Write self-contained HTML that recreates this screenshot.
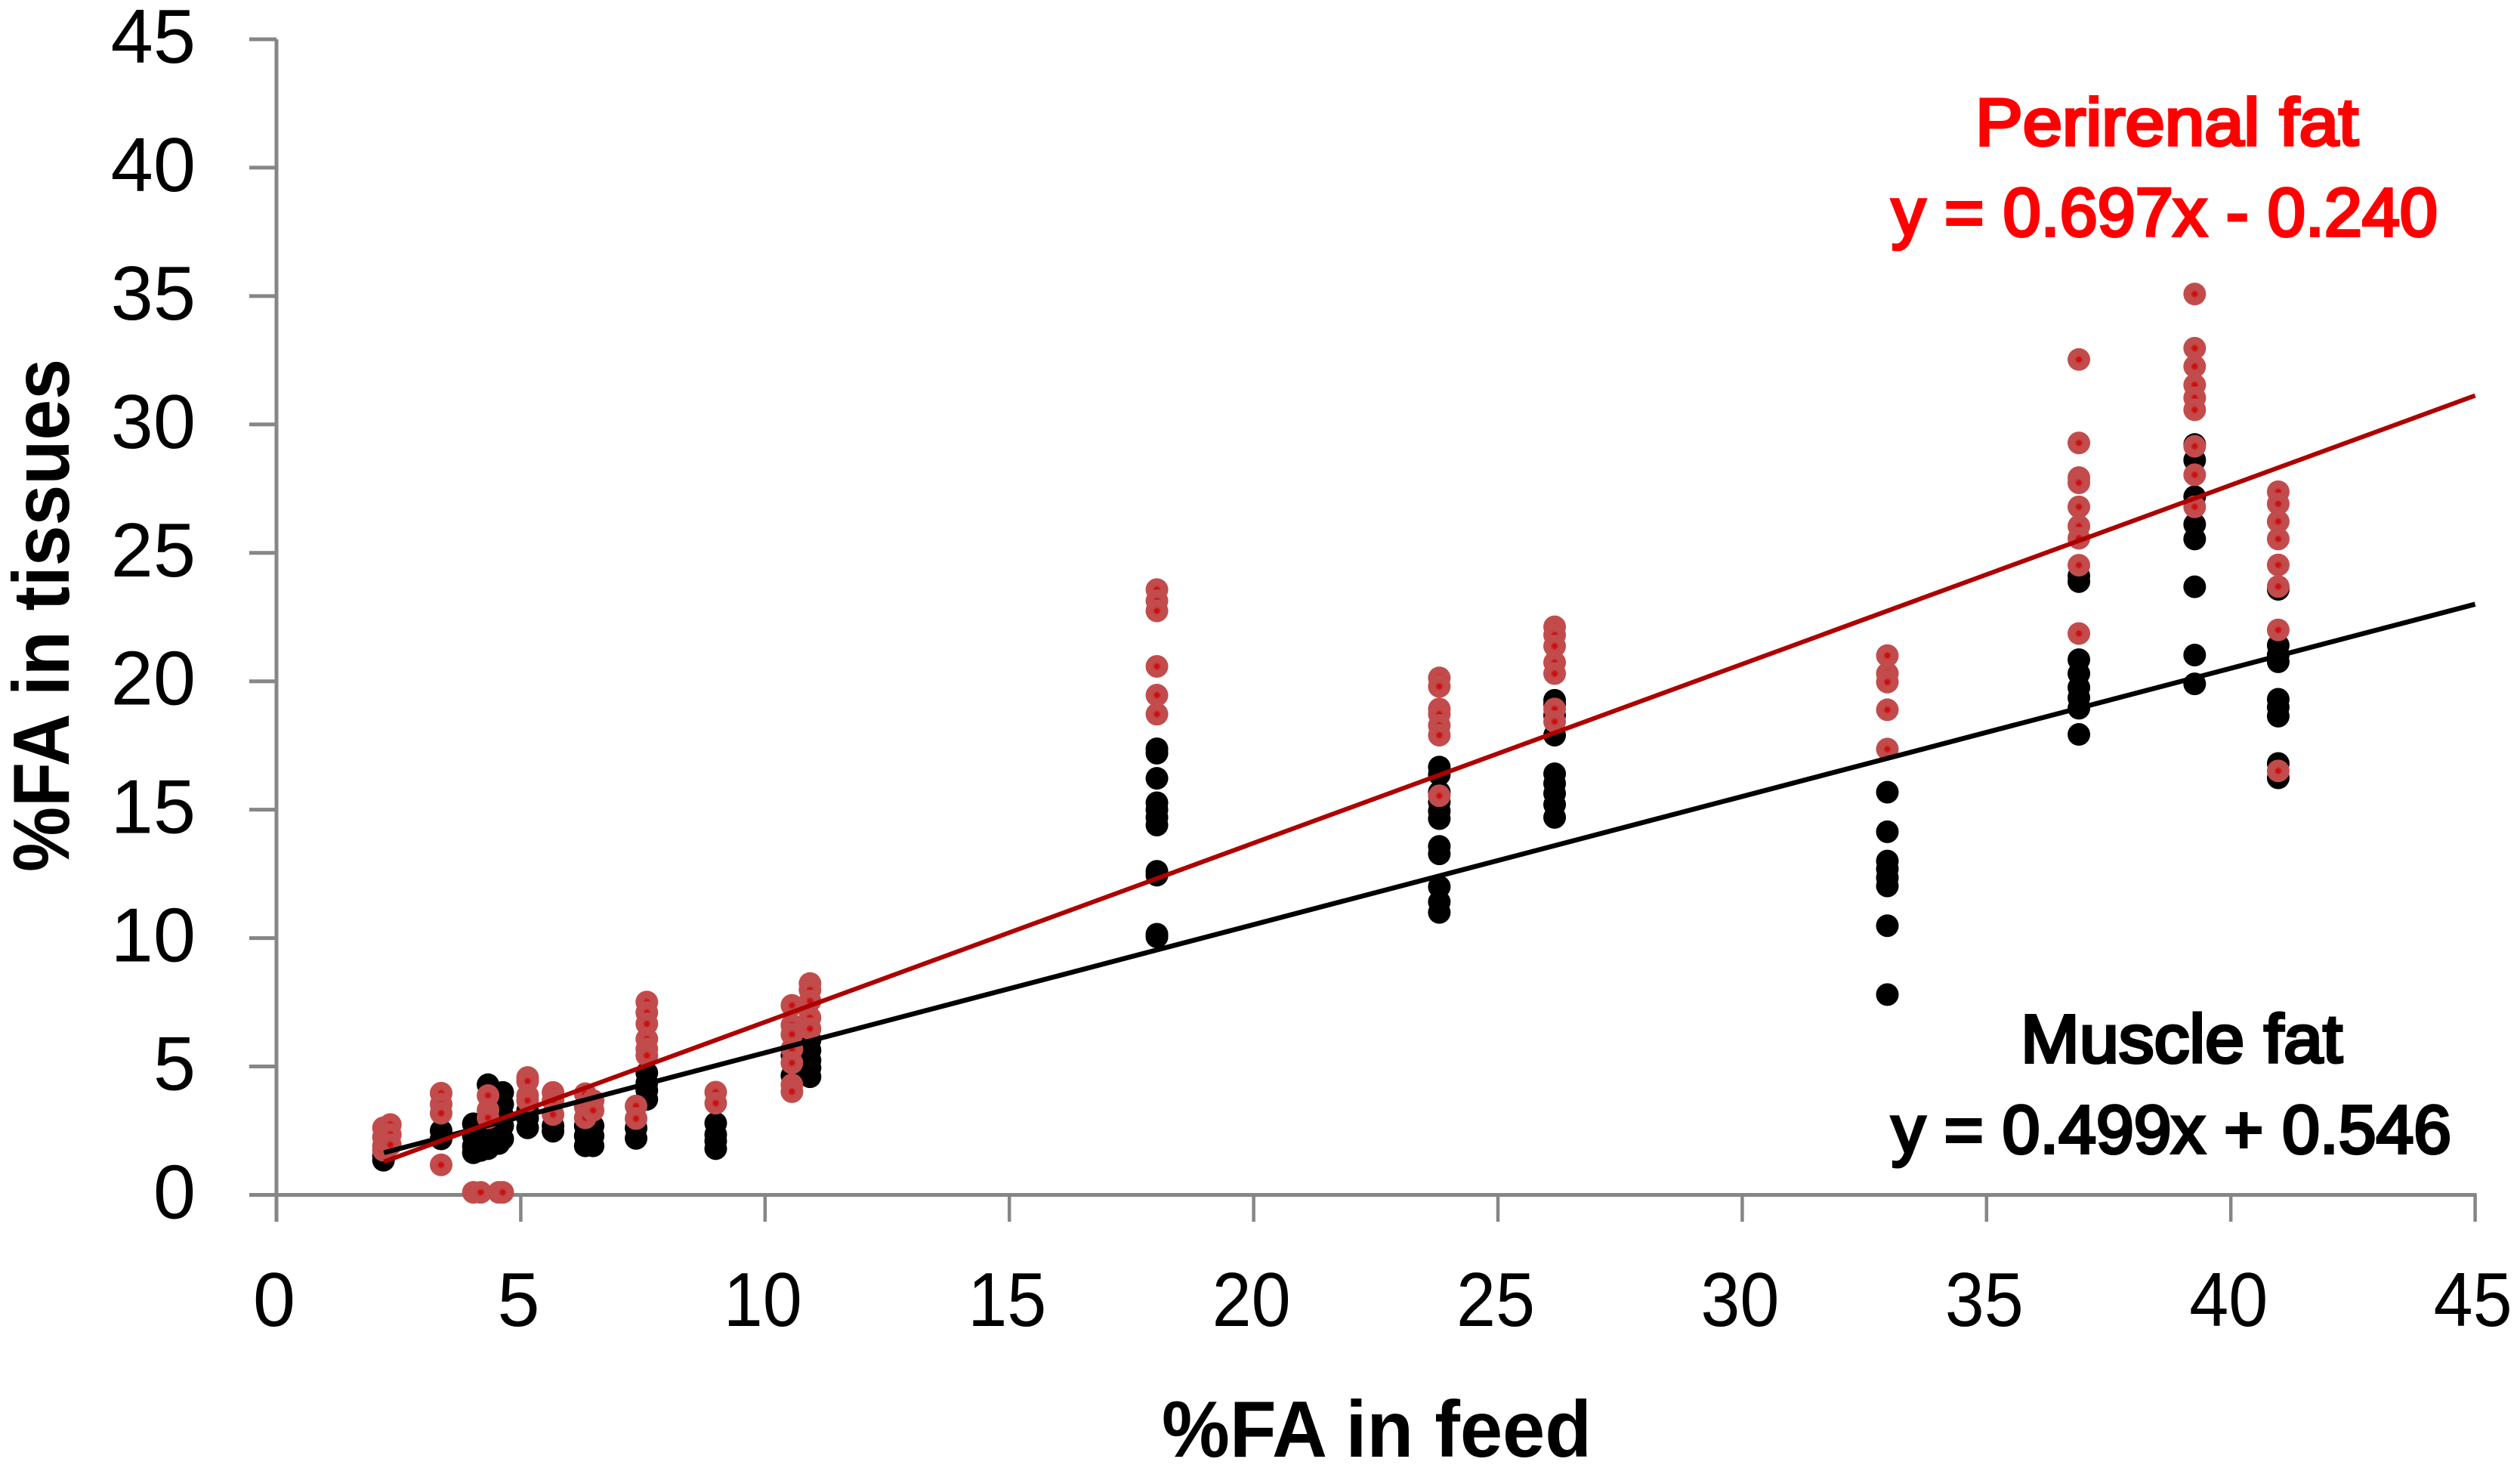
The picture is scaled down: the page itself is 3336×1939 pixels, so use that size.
<!DOCTYPE html>
<html lang="en">
<head>
<meta charset="utf-8">
<title>%FA in tissues vs %FA in feed</title>
<style>
html,body{margin:0;padding:0;background:#fff;width:3336px;height:1939px;overflow:hidden}
svg{display:block}
text{font-family:"Liberation Sans",sans-serif}
</style>
</head>
<body>
<svg id="chart" width="3336" height="1939" viewBox="0 0 3336 1939" xmlns="http://www.w3.org/2000/svg">
  <defs>
    <radialGradient id="redDot">
      <stop offset="0" stop-color="#cc0a0a"/>
      <stop offset="0.18" stop-color="#cc1212"/>
      <stop offset="0.36" stop-color="#c24a4a"/>
      <stop offset="1" stop-color="#c24c4c"/>
    </radialGradient>
  </defs>
  <rect x="0" y="0" width="3336" height="1939" fill="#ffffff"/>
  <g id="axes"></g>
  <g id="muscle-points"></g>
  <g id="perirenal-points"></g>
  <g id="trends"></g>
  <g id="tick-labels" font-size="101" fill="#000"></g>
  <text x="1538" y="1928" font-size="106" font-weight="700" textLength="569" lengthAdjust="spacingAndGlyphs" fill="#000">%FA in feed</text>
  <text transform="translate(91 1154) rotate(-90)" x="0" y="0" font-size="106" font-weight="700" textLength="679" lengthAdjust="spacingAndGlyphs" fill="#000">%FA in tissues</text>
  <text x="2615" y="192" font-size="88" stroke="#ff0000" stroke-width="4" textLength="507" lengthAdjust="spacingAndGlyphs" fill="#ff0000">Perirenal fat</text>
  <text x="2504" y="312" font-size="90" stroke="#ff0000" stroke-width="4" textLength="723" lengthAdjust="spacingAndGlyphs" fill="#ff0000">y = 0.697x - 0.240</text>
  <text x="2675" y="1406" font-size="90" stroke="#000" stroke-width="4" textLength="426" lengthAdjust="spacingAndGlyphs" fill="#000">Muscle fat</text>
  <text x="2504" y="1526" font-size="90" stroke="#000" stroke-width="4" textLength="741" lengthAdjust="spacingAndGlyphs" fill="#000">y = 0.499x + 0.546</text>
</svg>
<script>
const xTicks = [0, 5, 10, 15, 20, 25, 30, 35, 40, 45];
const yTicks = [0, 5, 10, 15, 20, 25, 30, 35, 40, 45];
const feedLevels = [2.19, 2.33, 3.37, 4.03, 4.18, 4.33, 4.55, 4.63, 5.14, 5.66, 6.32, 6.48, 7.36, 7.58, 8.99, 10.55, 10.92, 18.02, 23.8, 26.16, 32.97, 36.89, 39.26, 40.97];
const muscleFat = [
  [1.51, 1.35],
  [],
  [2.5, 2.18],
  [2.77, 2.3, 1.9, 1.64],
  [2.2, 1.73],
  [4.29, 2.69, 2.3, 1.9, 1.8],
  [2.0],
  [3.99, 3.53, 3.09, 2.69, 2.18],
  [3.28, 2.99, 2.61],
  [2.69, 2.48],
  [2.69, 2.3, 1.91],
  [2.69, 2.3, 1.91],
  [2.6, 2.2],
  [4.75, 4.36, 4.07, 3.72],
  [2.79, 2.35, 2.1, 1.8],
  [5.44, 4.65],
  [6.03, 5.63, 5.24, 4.95, 4.6],
  [17.37, 17.2, 16.22, 15.27, 15.0, 14.7, 14.4, 12.6, 12.45, 10.15, 10.05],
  [16.66, 16.37, 15.68, 15.3, 14.95, 14.65, 13.57, 13.28, 12.0, 11.41, 11.0],
  [19.26, 19.1, 18.67, 17.9, 16.4, 16.02, 15.63, 15.2, 14.7],
  [15.68, 14.14, 13.0, 12.69, 12.35, 12.03, 10.48, 7.8],
  [24.1, 23.88, 20.84, 20.3, 19.76, 19.36, 18.95, 17.93],
  [29.22, 28.61, 27.19, 26.11, 25.54, 23.68, 21.02, 19.9],
  [23.58, 21.4, 21.03, 20.76, 19.3, 18.99, 18.64, 16.8, 16.24]
];
const perirenalFat = [
  [2.61, 2.25, 1.91, 1.74],
  [2.74, 2.35, 1.95],
  [3.96, 3.53, 3.18, 1.17],
  [0.1],
  [0.1],
  [3.87, 3.31, 3.0],
  [0.1],
  [0.1],
  [4.57, 4.43, 3.87, 3.67],
  [3.99, 3.67, 3.13],
  [3.94, 3.43, 3.0],
  [3.67, 3.29],
  [3.46, 2.97],
  [7.51, 7.1, 6.66, 6.07, 5.68, 5.43],
  [4.0, 3.57],
  [7.38, 6.61, 6.25, 5.68, 5.14, 4.29, 4.02],
  [8.23, 7.98, 7.55, 6.9, 6.47],
  [23.57, 23.13, 22.74, 20.58, 19.46, 18.72],
  [20.13, 19.8, 18.92, 18.72, 18.28, 17.9, 15.54],
  [22.12, 21.8, 21.37, 20.73, 20.3, 18.92, 18.43],
  [21.0, 20.3, 19.97, 18.89, 17.36],
  [32.53, 29.28, 27.93, 27.73, 26.79, 26.04, 25.57, 24.52, 21.86],
  [35.08, 32.97, 32.26, 31.54, 31.04, 30.57, 29.15, 28.04, 26.79],
  [27.38, 26.91, 26.22, 25.54, 24.53, 23.69, 22.0, 16.51]
];
const trendRange = [2.2, 45];
const muscleTrend = [0.499, 0.546];
const perirenalTrend = [0.697, -0.24];

const NS = 'http://www.w3.org/2000/svg';
const scaleX = v => 366 + v * 64.68;
const scaleY = v => 1581.5 - v * 33.99;

function make(parent, tag, attrs) {
  const el = document.createElementNS(NS, tag);
  for (const k in attrs) el.setAttribute(k, attrs[k]);
  parent.appendChild(el);
  return el;
}

const axes = document.getElementById('axes');
const labels = document.getElementById('tick-labels');

const yAxisLine = make(axes, 'line', {x1: scaleX(0), x2: scaleX(0), y1: scaleY(45), y2: 1617, stroke: '#868686', 'stroke-width': 5});



const xAxisLine = make(axes, 'line', {x1: 330, x2: scaleX(45) + 2, y1: scaleY(0), y2: scaleY(0), stroke: '#868686', 'stroke-width': 5});



yTicks.forEach(t => {
  const tick = make(axes, 'line', {x1: 330, x2: scaleX(0), y1: scaleY(t), y2: scaleY(t), stroke: '#868686', 'stroke-width': 5});
  
  
  const label = make(labels, 'text', {x: 259, y: scaleY(t) + 31, 'text-anchor': 'end'});
  label.textContent = String(t);
  
  
});

xTicks.forEach(t => {
  const tick = make(axes, 'line', {x1: scaleX(t), x2: scaleX(t), y1: scaleY(0), y2: 1617, stroke: '#868686', 'stroke-width': 4.5});
  
  
  const label = make(labels, 'text', {x: scaleX(t) - 3, y: 1755, 'text-anchor': 'middle'});
  label.textContent = String(t);
  if (t >= 10) label.setAttribute('textLength', '104');
  if (t >= 10) label.setAttribute('lengthAdjust', 'spacingAndGlyphs');
  
  
});

const muscleGroup = document.getElementById('muscle-points');
feedLevels.forEach((x, i) => {
  muscleFat[i].forEach(y => {
    const dot = make(muscleGroup, 'circle', {cx: scaleX(x), cy: scaleY(y), r: 15, fill: '#000000'});
    
    
  });
});

const perirenalGroup = document.getElementById('perirenal-points');
feedLevels.forEach((x, i) => {
  perirenalFat[i].forEach(y => {
    const dot = make(perirenalGroup, 'circle', {cx: scaleX(x), cy: scaleY(y), r: 15, fill: 'url(#redDot)'});
    
    
  });
});

const trends = document.getElementById('trends');
const muscleLine = make(trends, 'line', {
  x1: scaleX(trendRange[0]), y1: scaleY(muscleTrend[0] * trendRange[0] + muscleTrend[1]),
  x2: scaleX(trendRange[1]), y2: scaleY(muscleTrend[0] * trendRange[1] + muscleTrend[1]),
  stroke: '#000000', 'stroke-width': 6.5
});


const perirenalLine = make(trends, 'line', {
  x1: scaleX(trendRange[0]), y1: scaleY(perirenalTrend[0] * trendRange[0] + perirenalTrend[1]),
  x2: scaleX(trendRange[1]), y2: scaleY(perirenalTrend[0] * trendRange[1] + perirenalTrend[1]),
  stroke: '#ad0000', 'stroke-width': 6
});


</script>
</body>
</html>
